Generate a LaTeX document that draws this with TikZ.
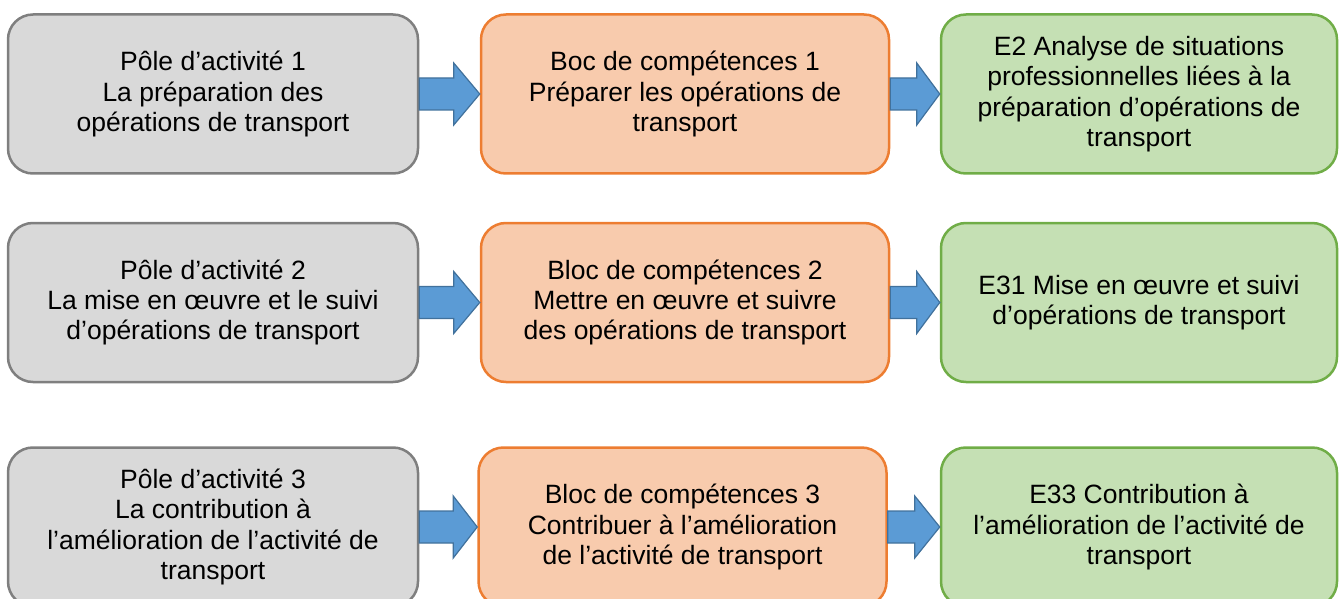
\documentclass[tikz,border=0pt]{standalone}
\usepackage{fontspec}
\setmainfont{Liberation Sans}
\usetikzlibrary{calc}
\definecolor{grayfill}{HTML}{D9D9D9}
\definecolor{grayline}{HTML}{7F7F7F}
\definecolor{orangefill}{HTML}{F8CBAD}
\definecolor{orangeline}{HTML}{ED7D31}
\definecolor{greenfill}{HTML}{C5E0B4}
\definecolor{greenline}{HTML}{70AD47}
\definecolor{arrowfill}{HTML}{5B9BD5}
\definecolor{arrowline}{HTML}{41719C}
\tikzset{
  basebox/.style={rectangle, rounded corners=25pt, line width=2.5pt, align=center,
    inner sep=0pt, minimum height=159pt,
    font=\fontsize{26.5}{30.4}\selectfont},
  graybox/.style={basebox, draw=grayline, fill=grayfill, minimum width=410pt},
  orangebox/.style={basebox, draw=orangeline, fill=orangefill, minimum width=408pt},
  greenbox/.style={basebox, draw=greenline, fill=greenfill, minimum width=396pt},
  blockarrow/.style={draw=arrowline, fill=arrowfill, line width=1.2pt, line join=miter}
}
\newcommand{\blockarr}[3]{%
  \path let \p1=(#1.east), \p2=(#2.west) in
    [blockarrow] (\x1,\y1+16pt) -- (\x2-#3,\y1+16pt) -- (\x2-#3,\y1+31pt) -- (\x2,\y1)
    -- (\x2-#3,\y1-31pt) -- (\x2-#3,\y1-16pt) -- (\x1,\y1-16pt) -- cycle;}
\begin{document}
\begin{tikzpicture}[x=1pt,y=-1pt]
\useasboundingbox (0,0) rectangle (1339,599);
\clip (0,0) rectangle (1339,599);
% row 1
\node[graybox] (p1) at (213,94) {Pôle d’activité 1\\La préparation des\\opérations de transport};
\node[orangebox] (b1) at (685,94) {Boc de compétences 1\\Préparer les opérations de\\transport};
\node[greenbox] (e1) at (1139,94) {E2 Analyse de situations\\professionnelles liées à la\\préparation d’opérations de\\transport};
% row 2
\node[graybox] (p2) at (213,302.5) {Pôle d’activité 2\\La mise en œuvre et le suivi\\d’opérations de transport};
\node[orangebox] (b2) at (685,302.5) {Bloc de compétences 2\\Mettre en œuvre et suivre\\des opérations de transport};
\node[greenbox] (e2) at (1139,302.5) {E31 Mise en œuvre et suivi\\d’opérations de transport};
% row 3
\node[graybox] (p3) at (213,527) {Pôle d’activité 3\\La contribution à\\l’amélioration de l’activité de\\transport};
\node[orangebox] (b3) at (682.5,527) {Bloc de compétences 3\\Contribuer à l’amélioration\\de l’activité de transport};
\node[greenbox] (e3) at (1139,527) {E33 Contribution à\\l’amélioration de l’activité de\\transport};
% arrows
\blockarr{p1}{b1}{26pt}
\blockarr{b1}{e1}{23pt}
\blockarr{p2}{b2}{26pt}
\blockarr{b2}{e2}{23pt}
\blockarr{p3}{b3}{24pt}
\blockarr{b3}{e3}{25pt}
\end{tikzpicture}
\end{document}
